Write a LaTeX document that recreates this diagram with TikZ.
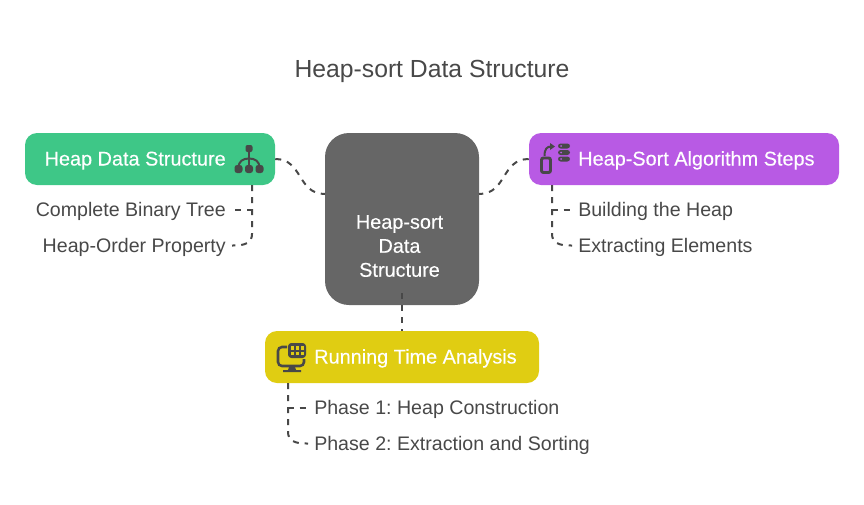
\documentclass[tikz,border=0pt]{standalone}
\usepackage{fontspec}
\setmainfont{Liberation Sans}
\newfontfamily\cardfont[FakeBold=0.2]{Liberation Sans}
\definecolor{heapgreen}{RGB}{62,199,135}
\definecolor{sortpurple}{RGB}{184,90,228}
\definecolor{timeyellow}{RGB}{224,205,18}
\definecolor{hubgrey}{RGB}{102,102,102}
\definecolor{inkgrey}{RGB}{72,72,72}
\tikzset{
  card/.style={draw=none,rounded corners=9pt,inner sep=0pt,minimum height=39pt},
  hubcard/.style={draw=none,fill=hubgrey,rounded corners=18pt,inner sep=0pt,minimum width=115.5pt,minimum height=129pt},
  cardtext/.style={text=white,font=\cardfont\fontsize{14.9pt}{18pt}\selectfont,inner sep=0pt},
  leaftext/.style={text=inkgrey,font=\fontsize{14.7pt}{18pt}\selectfont\frenchspacing,inner ysep=0pt,inner xsep=4.5pt,text height=13pt,text depth=2.5pt},
  link/.style={draw=inkgrey,line width=1.5pt,dash pattern=on 4.5pt off 4.5pt},
  iconline/.style={draw=inkgrey,line width=1.5pt},
  iconfill/.style={fill=inkgrey,draw=none},
}
\begin{document}
\begin{tikzpicture}[x=0.75pt,y=0.75pt,yscale=-1,xscale=1]
\path[use as bounding box] (0,0) rectangle (864,504);

% Text Node
\node (title) at (432,77) [anchor=base,text=inkgrey,inner sep=0pt,font=\fontsize{18.55pt}{22pt}\selectfont] {Heap-sort Data Structure};

%Shape: Cards
\node (hub) at (402,219) [hubcard] {};
\node (heapcard) at (150,159) [card,fill=heapgreen,minimum width=187.5pt] {};
\node (sortcard) at (684,159) [card,fill=sortpurple,minimum width=232.5pt] {};
\node (timecard) at (402,357) [card,fill=timeyellow,minimum width=205.5pt] {};

% Text Node
\node (hubtext) at (399.5,246) [cardtext,align=center] {Heap-sort\\Data\\Structure};
\node (heaptext) at (226,165.5) [cardtext,anchor=base east] {Heap Data Structure};
\node (sorttext) at (578,165.5) [cardtext,anchor=base west] {Heap-Sort Algorithm Steps};
\node (timetext) at (314,363.5) [cardtext,anchor=base west] {Running Time Analysis};
\node (treeleaf) at (232,216.5) [leaftext,anchor=base east] {Complete Binary Tree};
\node (orderleaf) at (232,252.5) [leaftext,anchor=base east] {Heap-Order Property};
\node (buildleaf) at (572,216.5) [leaftext,anchor=base west] {Building the Heap};
\node (extractleaf) at (572,252.5) [leaftext,anchor=base west] {Extracting Elements};
\node (phaseoneleaf) at (308,414.5) [leaftext,anchor=base west] {Phase 1: Heap Construction};
\node (phasetwoleaf) at (308,450.5) [leaftext,anchor=base west] {Phase 2: Extraction and Sorting};

\coordinate (hubleft) at (325,194);
\coordinate (hubright) at (479,194);
\coordinate (hubfoot) at (402,293);
\coordinate (timetop) at (402,331);
\coordinate (heaptrunk) at (252,185);
\coordinate (sorttrunk) at (552,185);
\coordinate (timetrunk) at (288,383);

%Straight Lines
\draw [link] (heapcard.east) .. controls (303,159) and (297,194) .. (hubleft);
\draw [link] (sortcard.west) .. controls (501,159) and (507,194) .. (hubright);
\draw [link] (hubfoot) -- (timetop);
\draw [link] (heaptrunk) |- (treeleaf.east);
\draw [link] (heaptrunk) -- (252,234) .. controls (252,242) and (246,246) .. (orderleaf.east);
\draw [link] (sorttrunk) |- (buildleaf.west);
\draw [link] (sorttrunk) -- (552,234) .. controls (552,242) and (558,246) .. (extractleaf.west);
\draw [link] (timetrunk) |- (phaseoneleaf.west);
\draw [link] (timetrunk) -- (288,432) .. controls (288,440) and (294,444) .. (phasetwoleaf.west);

%Shape: Tree icon
\draw [iconline] (249,150) -- (249,168);
\draw [iconline] (238.5,168) .. controls (238.5,161) and (243,158.5) .. (249,158.5) .. controls (255,158.5) and (259.5,161) .. (259.5,168);
\draw [iconfill,rounded corners=1.5pt] (245.5,145) rectangle (252.5,152);
\foreach \dotx in {238.5,249,259.5}
  \draw [iconfill,rounded corners=2pt] (\dotx-4,165) rectangle (\dotx+4,173);

%Shape: Phone icon
\draw [iconline,line width=2.2pt,rounded corners=1.5pt] (541.5,158) rectangle (550.5,172.5);
\draw [iconline] (544.5,156) .. controls (544.5,149) and (547,146.5) .. (551,146.5);
\draw [iconfill] (550,143) -- (555,146.5) -- (550,150) -- cycle;
\foreach \pillx in {146,152.5,159}
  \draw [iconfill,rounded corners=2pt] (558,\pillx-2.5) rectangle (570,\pillx+2.5);
\foreach \pillx in {146,152.5,159}
  \draw [fill=sortpurple,draw=none] (561,\pillx) circle (1);

%Shape: Monitor icon
\draw [iconline,line width=1.9pt,rounded corners=3pt] (287,347) -- (278,347) -- (278,366) -- (304,366) -- (304,359);
\draw [iconfill] (289,367) -- (295,367) -- (296,370) -- (301,370) -- (301,372) -- (283,372) -- (283,370) -- (288,370) -- cycle;
\draw [iconfill,rounded corners=2.5pt] (288,343) rectangle (306,358);
\foreach \cellx in {290.5,295.5,300.5}
  \foreach \celly in {346,351.5}
    \draw [fill=timeyellow,draw=none] (\cellx,\celly) rectangle ++(3.6,3.8);

\end{tikzpicture}
\end{document}
